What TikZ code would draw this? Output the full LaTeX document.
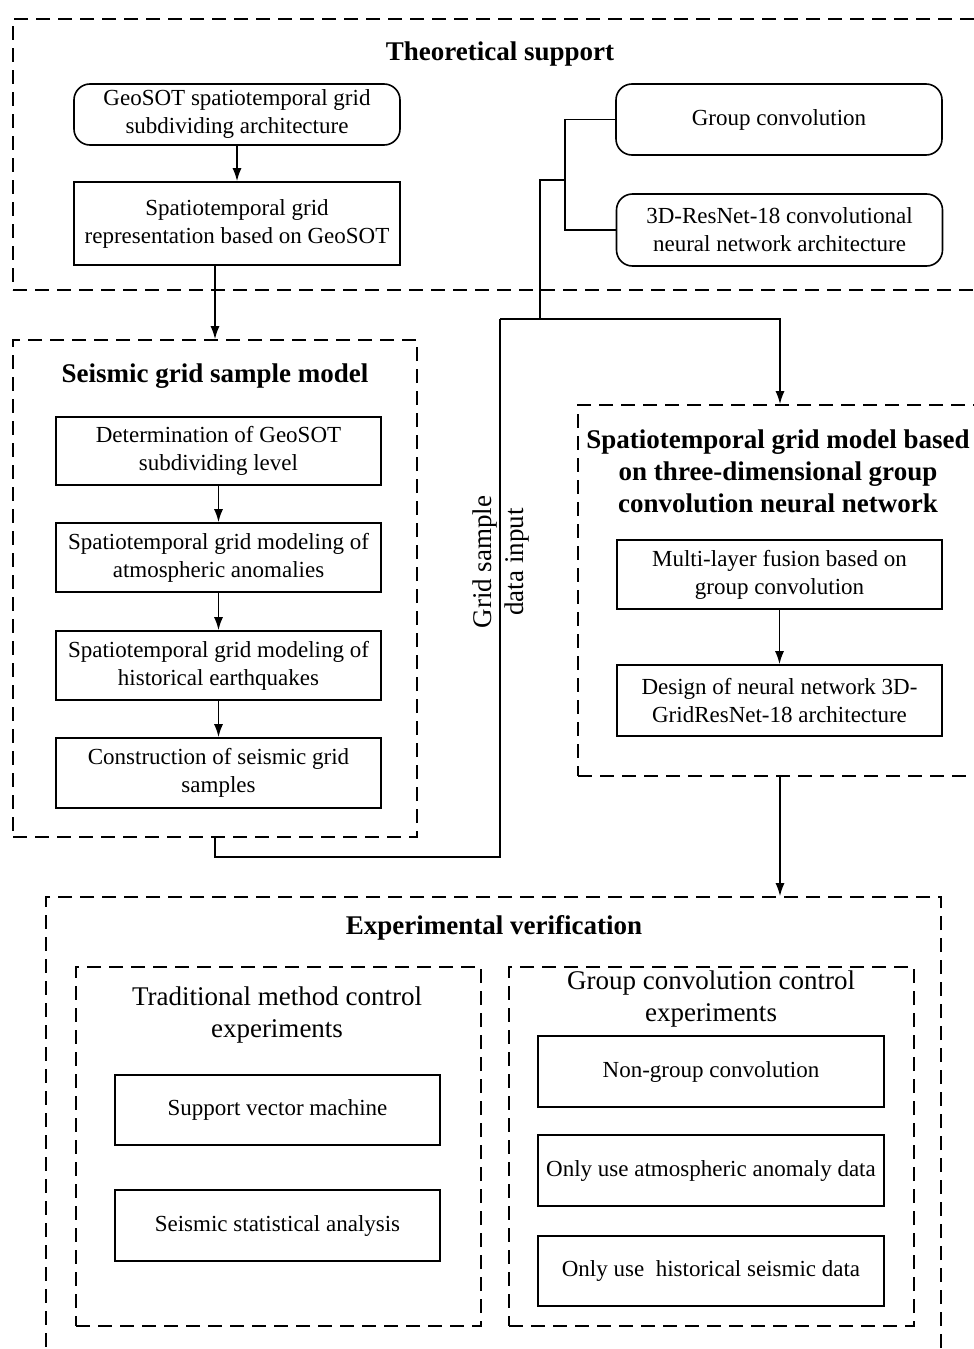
\documentclass[tikz,border=0pt]{standalone}
\usepackage{fontspec}
\setmainfont{Liberation Serif}
\usetikzlibrary{arrows,arrows.meta,positioning,shapes}

\begin{document}
\begin{tikzpicture}[x=1pt,y=-1pt,line width=1.6pt,
    box/.style={draw,rectangle,inner sep=0pt,align=center,minimum width=326pt,font=\fontsize{23}{28}\selectfont},
    rbox/.style={box,rounded corners=16pt},
    frame/.style={draw,rectangle,dash pattern=on 14pt off 8pt,inner sep=0pt},
    title/.style={font=\fontsize{27}{32}\selectfont\bfseries,align=center},
    subtitle/.style={font=\fontsize{27}{32}\selectfont,align=center},
    link/.style={-{Latex[length=13pt,width=9pt]}}]
    \useasboundingbox (0,0) rectangle (974,1349);

    \node[frame,minimum width=972pt,minimum height=271pt] (frame1) at (499,154.5) {};
    \node[title] (theory) at (500,54) {Theoretical support};
    \node[rbox,minimum height=61pt] (geo1) at (237,114.5) {GeoSOT spatiotemporal grid\\subdividing architecture};
    \node[box,minimum height=83pt] (geo2) at (237,223.5) {Spatiotemporal grid\\representation based on GeoSOT};
    \node[rbox,minimum height=71pt] (conv1) at (779,119.5) {Group convolution};
    \node[rbox,minimum height=72pt] (conv2) at (779.5,230) {3D-ResNet-18 convolutional\\neural network architecture};

    \node[frame,minimum width=404pt,minimum height=497pt] (frame2) at (215,588.5) {};
    \node[title] (sample) at (215,376) {Seismic grid sample model};
    \node[box,minimum width=325pt,minimum height=68pt] (sample1) at (218.5,451) {Determination of GeoSOT\\subdividing level};
    \node[box,minimum width=325pt,minimum height=69pt] (sample2) at (218.5,557.5) {Spatiotemporal grid modeling of\\atmospheric anomalies};
    \node[box,minimum width=325pt,minimum height=69pt] (sample3) at (218.5,665.5) {Spatiotemporal grid modeling of\\historical earthquakes};
    \node[box,minimum width=325pt,minimum height=70pt] (sample4) at (218.5,773) {Construction of seismic grid\\samples};

    \node[frame,minimum width=404pt,minimum height=371pt] (frame3) at (780,590.5) {};
    \node[title] (model) at (778,471) {Spatiotemporal grid model based\\on three-dimensional group\\convolution neural network};
    \node[box,minimum width=325pt,minimum height=69pt] (model1) at (779.5,574.5) {Multi-layer fusion based on\\group convolution};
    \node[box,minimum width=325pt,minimum height=71pt] (model2) at (779.5,700.5) {Design of neural network 3D-\\GridResNet-18 architecture};

    \node[subtitle,rotate=90] (input) at (501,562) {Grid sample\\data input};

    \node[frame,minimum width=895pt,minimum height=480pt] (frame4) at (493.5,1137) {};
    \node[title] (exp) at (494,928) {Experimental verification};

    \node[frame,minimum width=405pt,minimum height=359pt] (frame5) at (278.5,1146.5) {};
    \node[subtitle] (trad) at (277,1015) {Traditional method control\\experiments};
    \node[box,minimum width=325pt,minimum height=70pt] (svm) at (277.5,1110) {Support vector machine};
    \node[box,minimum width=325pt,minimum height=71pt] (stat) at (277.5,1225.5) {Seismic statistical analysis};

    \node[frame,minimum width=405pt,minimum height=359pt] (frame6) at (711.5,1146.5) {};
    \node[subtitle] (group) at (711,999) {Group convolution control\\experiments};
    \node[box,minimum width=346pt,minimum height=71pt] (group1) at (711,1071.5) {Non-group convolution};
    \node[box,minimum width=346pt,minimum height=71pt] (group2) at (711,1170.5) {Only use atmospheric anomaly data};
    \node[box,minimum width=346pt,minimum height=70pt] (group3) at (711,1271) {Only use~ historical seismic data};

    \coordinate (split) at (565,180);
    \coordinate (branch) at (540,319);
    \coordinate (turn) at (500,319);
    \coordinate (low) at (500,857);

    \draw[link] (geo1) -- (geo2);
    \draw[link] (geo2.south -| frame2.north) -- (frame2.north);
    \draw (conv1.west) -| (split) |- (conv2.west);
    \draw (split) -| (branch);
    \draw[link] (turn) -| (frame3.north);
    \draw (frame2.south) |- (low) -- (turn);
    \draw[link] (sample1) -- (sample2);
    \draw[link] (sample2) -- (sample3);
    \draw[link] (sample3) -- (sample4);
    \draw[link] (model1) -- (model2);
    \draw[link] (frame3.south) -- (frame3.south |- frame4.north);
\end{tikzpicture}
\end{document}
